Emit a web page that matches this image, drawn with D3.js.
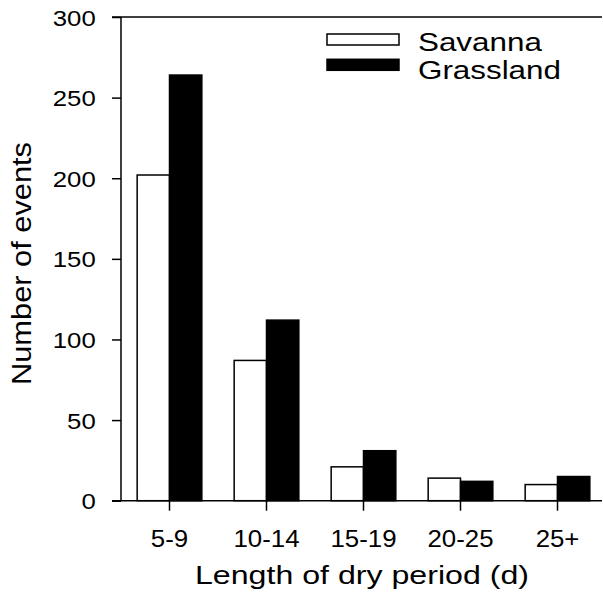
<!DOCTYPE html>
<html>
<head>
<meta charset="utf-8">
<script src="https://cdn.jsdelivr.net/npm/d3@7"></script>
<style>
  html, body { margin: 0; padding: 0; background: #fff; }
  text { font-family: "Liberation Sans", Arial, sans-serif; fill: #000; }
</style>
</head>
<body>
<svg id="chart" width="603" height="603"></svg>
<script>
const categories = ["5-9", "10-14", "15-19", "20-25", "25+"];
const seriesNames = ["Savanna", "Grassland"];
const savanna = [202, 87, 21, 14, 10];
const grassland = [264, 112, 31, 12, 15];
const yTicks = [0, 50, 100, 150, 200, 250, 300];

const svg = d3.select("#chart");
const x0 = d3.scaleBand().domain(categories).range([121, 606]).padding(0);
const x1 = d3.scaleBand().domain(seriesNames).range([0, x0.bandwidth()]).paddingInner(0).paddingOuter(0.5);
const y = d3.scaleLinear().domain([0, 300]).range([500.7, 17]);

const table = categories.map((c, i) => ({ cat: c, values: [
  { key: "Savanna", v: savanna[i] }, { key: "Grassland", v: grassland[i] }] }));

// bars
const g = svg.append("g");
table.forEach(row => {
  row.values.forEach(d => {
    g.append("rect")
      .attr("x", x0(row.cat) + x1(d.key))
      .attr("y", y(d.v))
      .attr("width", x1.bandwidth())
      .attr("height", y(0) - y(d.v))
      .attr("fill", d.key === "Savanna" ? "#fff" : "#000")
      .attr("stroke", "#000")
      .attr("stroke-width", 1.5);
  });
});

function stretch(sel, f) {
  sel.each(function() {
    const L = this.getComputedTextLength();
    d3.select(this).attr("textLength", L * f).attr("lengthAdjust", "spacingAndGlyphs");
  });
}

// y axis
const yAxis = d3.axisLeft(y).tickValues(yTicks).tickSize(9).tickPadding(0).tickFormat(d3.format("d"));
const ya = svg.append("g").attr("transform", "translate(121,0)").call(yAxis);
ya.select(".domain").remove();
ya.selectAll(".tick line").attr("stroke", "#000").attr("stroke-width", 1.5);
ya.selectAll(".tick text").attr("x", -25.3).attr("dy", "0.37em")
  .attr("font-size", 22).attr("font-family", "Liberation Sans, Arial, sans-serif").attr("fill", "#000");
stretch(ya.selectAll(".tick text"), 1.17);

// x axis
const xAxis = d3.axisBottom(x0).tickSize(10).tickPadding(0);
const xa = svg.append("g").attr("transform", "translate(0,500.7)").call(xAxis);
xa.select(".domain").remove();
xa.selectAll(".tick line").attr("stroke", "#000").attr("stroke-width", 1.5);
xa.selectAll(".tick text").attr("y", 46).attr("dy", 0)
  .attr("font-size", 24).attr("font-family", "Liberation Sans, Arial, sans-serif").attr("fill", "#000");
stretch(xa.selectAll(".tick text"), 1.075);

// frame lines
svg.append("line").attr("x1", 121).attr("x2", 121).attr("y1", y(300)).attr("y2", y(0)).attr("stroke", "#000").attr("stroke-width", 1.5);
svg.append("line").attr("x1", 112).attr("x2", 602).attr("y1", y(0)).attr("y2", y(0)).attr("stroke", "#000").attr("stroke-width", 1.5);
svg.append("line").attr("x1", 112).attr("x2", 602).attr("y1", y(300)).attr("y2", y(300)).attr("stroke", "#000").attr("stroke-width", 1.5);

// titles
svg.append("text").attr("x", 362).attr("y", 583.5).attr("text-anchor", "middle")
  .attr("font-size", 26).text("Length of dry period (d)")
  .attr("textLength", 334).attr("lengthAdjust", "spacingAndGlyphs");
svg.append("text").attr("transform", "translate(31,263.5) rotate(-90)").attr("text-anchor", "middle")
  .attr("font-size", 27).text("Number of events")
  .attr("textLength", 243).attr("lengthAdjust", "spacingAndGlyphs");

// legend
const legend = [
  { name: seriesNames[0], fill: "#fff", ry: 34, ty: 51 },
  { name: seriesNames[1], fill: "#000", ry: 59.3, ty: 78.5 }
];
legend.forEach(l => {
  svg.append("rect").attr("x", 327).attr("y", l.ry).attr("width", 72).attr("height", 11)
    .attr("fill", l.fill).attr("stroke", "#000").attr("stroke-width", 1.5);
  const t = svg.append("text").attr("x", 418).attr("y", l.ty).attr("font-size", 25.5).text(l.name);
  stretch(t, 1.23);
});
</script>
</body>
</html>
